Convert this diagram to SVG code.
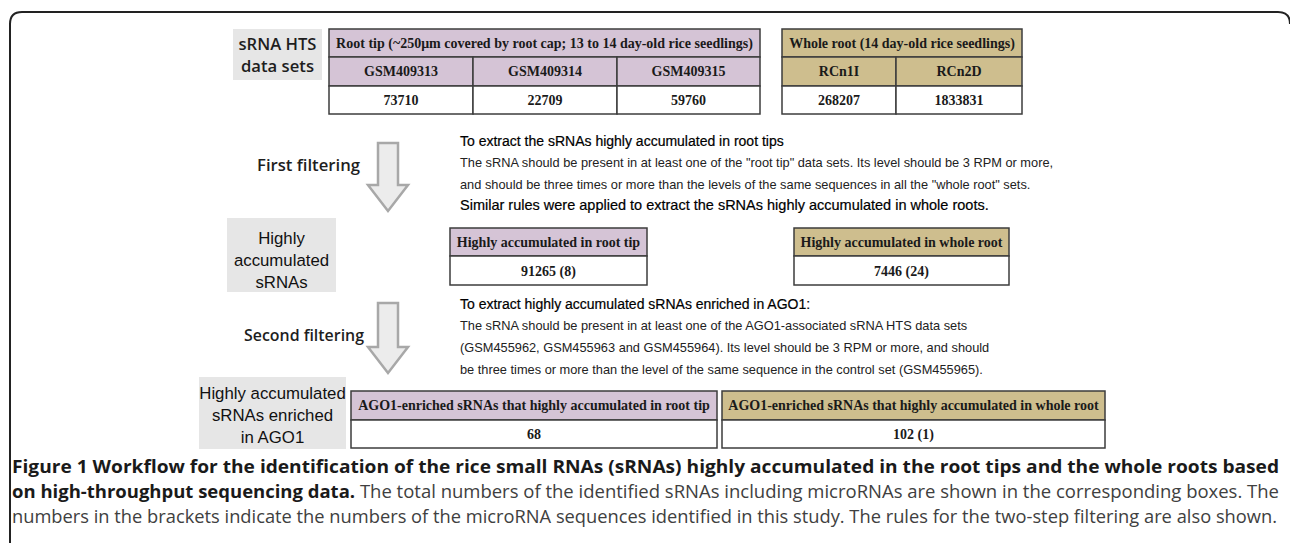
<svg xmlns="http://www.w3.org/2000/svg" width="1290" height="543" viewBox="0 0 1290 543">
<style>
.frame{fill:none;stroke:#222;stroke-width:2}
.cell{stroke:#3d3d3d;stroke-width:1.5}
.pur{fill:#d5c4d6}
.gold{fill:#cebe8e}
.wht{fill:#fff}
.gbox{fill:#e6e6e6}
.tt{font-family:"Liberation Serif","Times New Roman",serif;font-weight:bold;font-size:14px;fill:#1a1a1a;text-anchor:middle}
.lbl{font-family:"Open Sans","Noto Sans",sans-serif;font-size:17px;font-weight:600;fill:#1e1e1e;text-anchor:middle}
.flt{font-family:"Open Sans","Noto Sans",sans-serif;font-size:16.5px;font-weight:600;fill:#1e1e1e;text-anchor:end}
.glbl{font-family:"Liberation Sans",Arial,sans-serif;font-size:16.8px;fill:#111;text-anchor:middle}
.hd{font-family:"Liberation Sans",Arial,sans-serif;font-size:14px;fill:#000;stroke:#000;stroke-width:0.2}
.hd2{font-family:"Liberation Sans",Arial,sans-serif;font-size:14.5px;fill:#000;stroke:#000;stroke-width:0.2}
.rule{font-family:"Liberation Sans",Arial,sans-serif;font-size:12.8px;fill:#222}
.arrow{fill:#ececec;stroke:#a8a8a8;stroke-width:2.5;stroke-linejoin:miter}
.capb{font-family:"Open Sans","Noto Sans",sans-serif;font-size:18px;font-weight:bold;fill:#1a1a1a}
.capr{font-family:"Open Sans","Noto Sans",sans-serif;font-size:18px;fill:#404040}
</style>
<rect width="1290" height="543" fill="#fff"/>
<path class="frame" d="M10,543 V24 Q10,12 22,12 H1278 Q1290,12 1290,24"/>

<g id="label-datasets">
<rect class="gbox" x="233" y="29" width="89" height="51"/>
<text class="lbl" x="277.5" y="50" textLength="78" lengthAdjust="spacingAndGlyphs">sRNA HTS</text>
<text class="lbl" x="277.5" y="72" textLength="73" lengthAdjust="spacingAndGlyphs">data sets</text>
</g>

<g id="table-roottip">
<rect class="cell pur" x="329" y="29" width="431" height="28"/>
<rect class="cell pur" x="329" y="57" width="144" height="29"/>
<rect class="cell pur" x="473" y="57" width="144" height="29"/>
<rect class="cell pur" x="617" y="57" width="143" height="29"/>
<rect class="cell wht" x="329" y="86" width="144" height="28"/>
<rect class="cell wht" x="473" y="86" width="144" height="28"/>
<rect class="cell wht" x="617" y="86" width="143" height="28"/>
<text class="tt" x="544.5" y="48">Root tip (~250μm covered by root cap; 13 to 14 day-old rice seedlings)</text>
<text class="tt" x="401" y="76">GSM409313</text>
<text class="tt" x="545" y="76">GSM409314</text>
<text class="tt" x="688.5" y="76">GSM409315</text>
<text class="tt" x="401" y="105">73710</text>
<text class="tt" x="545" y="105">22709</text>
<text class="tt" x="688.5" y="105">59760</text>
</g>

<g id="table-wholeroot">
<rect class="cell gold" x="782" y="29" width="240" height="28"/>
<rect class="cell gold" x="782" y="57" width="114" height="29"/>
<rect class="cell gold" x="896" y="57" width="126" height="29"/>
<rect class="cell wht" x="782" y="86" width="114" height="28"/>
<rect class="cell wht" x="896" y="86" width="126" height="28"/>
<text class="tt" x="902" y="48">Whole root (14 day-old rice seedlings)</text>
<text class="tt" x="839" y="76">RCn1I</text>
<text class="tt" x="959" y="76">RCn2D</text>
<text class="tt" x="839" y="105">268207</text>
<text class="tt" x="959" y="105">1833831</text>
</g>

<g id="step-first">
<text class="flt" x="360" y="171" textLength="103" lengthAdjust="spacingAndGlyphs">First filtering</text>
<text class="hd" x="460" y="146">To extract the sRNAs highly accumulated in root tips</text>
<text class="rule" x="460" y="167">The sRNA should be present in at least one of the "root tip" data sets. Its level should be 3 RPM or more,</text>
<text class="rule" x="460" y="189">and should be three times or more than the levels of the same sequences in all the "whole root" sets.</text>
<text class="hd2" x="460" y="210">Similar rules were applied to extract the sRNAs highly accumulated in whole roots.</text>
</g>

<g id="label-highly">
<rect class="gbox" x="227" y="218" width="109" height="74"/>
<text class="glbl" x="281.5" y="244">Highly</text>
<text class="glbl" x="281.5" y="266">accumulated</text>
<text class="glbl" x="281.5" y="288">sRNAs</text>
</g>

<g id="table-high-roottip">
<rect class="cell pur" x="450" y="228" width="197" height="28"/>
<rect class="cell wht" x="450" y="256" width="197" height="29"/>
<text class="tt" x="548.5" y="247">Highly accumulated in root tip</text>
<text class="tt" x="548.5" y="275.5">91265 (8)</text>
</g>

<g id="table-high-wholeroot">
<rect class="cell gold" x="794" y="228" width="215" height="28"/>
<rect class="cell wht" x="794" y="256" width="215" height="29"/>
<text class="tt" x="901.5" y="247">Highly accumulated in whole root</text>
<text class="tt" x="901.5" y="275.5">7446 (24)</text>
</g>

<g id="step-second">
<text class="flt" x="364" y="341" textLength="120" lengthAdjust="spacingAndGlyphs">Second filtering</text>
<text class="hd" x="460" y="309">To extract highly accumulated sRNAs enriched in AGO1:</text>
<text class="rule" x="460" y="330">The sRNA should be present in at least one of the AGO1-associated sRNA HTS data sets</text>
<text class="rule" x="460" y="352">(GSM455962, GSM455963 and GSM455964). Its level should be 3 RPM or more, and should</text>
<text class="rule" x="460" y="374">be three times or more than the level of the same sequence in the control set (GSM455965).</text>
</g>

<g id="label-ago1">
<rect class="gbox" x="199" y="377" width="147" height="72"/>
<text class="glbl" x="272.5" y="399">Highly accumulated</text>
<text class="glbl" x="272.5" y="421">sRNAs enriched</text>
<text class="glbl" x="272.5" y="443">in AGO1</text>
</g>

<g id="table-ago1-roottip">
<rect class="cell pur" x="351" y="391" width="366" height="29"/>
<rect class="cell wht" x="351" y="420" width="366" height="28"/>
<text class="tt" x="534" y="410">AGO1-enriched sRNAs that highly accumulated in root tip</text>
<text class="tt" x="534" y="439">68</text>
</g>

<g id="table-ago1-wholeroot">
<rect class="cell gold" x="722" y="391" width="383" height="29"/>
<rect class="cell wht" x="722" y="420" width="383" height="28"/>
<text class="tt" x="913.5" y="410">AGO1-enriched sRNAs that highly accumulated in whole root</text>
<text class="tt" x="913.5" y="439">102 (1)</text>
</g>

<g id="connectors">
<path class="arrow" d="M378,143 H398 V185 H408 L388,211 L368,185 H378 Z"/>
<path class="arrow" d="M378,303 H398 V347 H408 L388,373 L368,347 H378 Z"/>
</g>

<g id="caption">
<text class="capb" x="12" y="473" textLength="1267" lengthAdjust="spacingAndGlyphs">Figure 1 Workflow for the identification of the rice small RNAs (sRNAs) highly accumulated in the root tips and the whole roots based</text>
<text x="12" y="498" textLength="1267" lengthAdjust="spacingAndGlyphs"><tspan class="capb">on high-throughput sequencing data.</tspan><tspan class="capr"> The total numbers of the identified sRNAs including microRNAs are shown in the corresponding boxes. The</tspan></text>
<text class="capr" x="12" y="523" textLength="1265" lengthAdjust="spacingAndGlyphs">numbers in the brackets indicate the numbers of the microRNA sequences identified in this study. The rules for the two-step filtering are also shown.</text>
</g>
</svg>
